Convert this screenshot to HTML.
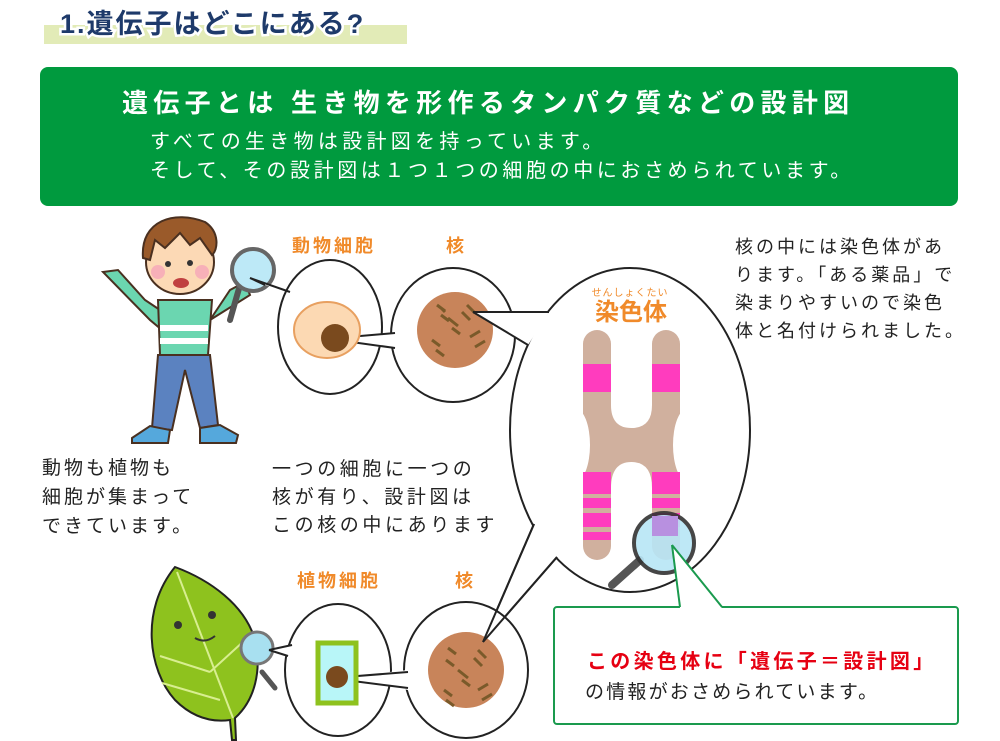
<!DOCTYPE html>
<html><head><meta charset="utf-8"><style>
body{margin:0;background:#fff}
svg{display:block}
text{font-family:"Liberation Sans","Noto Sans CJK JP",sans-serif}
</style></head><body>
<svg width="1000" height="741" viewBox="0 0 1000 741" xmlns="http://www.w3.org/2000/svg">
<rect x="44" y="25" width="363" height="19" fill="#e2ebb7"/>
<text x="60" y="33" font-size="27" font-weight="bold" fill="#1e3a6a" stroke="#fff" stroke-width="5" paint-order="stroke" letter-spacing="2">1.遺伝子はどこにある?</text>
<rect x="40" y="67" width="918" height="139" rx="8" fill="#009a3e"/>
<text x="122" y="112" font-size="26" font-weight="bold" fill="#fff" letter-spacing="5.3">遺伝子とは 生き物を形作るタンパク質などの設計図</text>
<text x="150" y="148" font-size="20" fill="#fff" letter-spacing="4.3">すべての生き物は設計図を持っています。</text>
<text x="150" y="177" font-size="20" fill="#fff" letter-spacing="3.6">そして、その設計図は１つ１つの細胞の中におさめられています。</text>

<!-- boy -->
<g stroke="#4a3020" stroke-width="2">
<path d="M103 272 L118 270 L145 300 L160 310 L162 330 L150 320 Z" fill="#6bd6b0"/>
<path d="M230 290 L245 282 L250 295 L210 320 Z" fill="#6bd6b0"/>
<path d="M158 300 L212 300 L208 355 L160 355 Z" fill="#6bd6b0"/>
<rect x="160" y="325" width="48" height="6" fill="#fff" stroke="none"/>
<rect x="160" y="338" width="48" height="6" fill="#fff" stroke="none"/>
<path d="M158 355 L210 355 L218 425 L200 428 L185 370 L172 430 L152 428 Z" fill="#5b82c0"/>
<path d="M132 438 L150 426 L170 430 L168 443 L132 443 Z" fill="#55a8dc"/>
<path d="M200 428 L220 425 L238 435 L236 443 L200 443 Z" fill="#55a8dc"/>
<ellipse cx="180" cy="262" rx="34" ry="32" fill="#fcd9b5"/>
<path d="M143 258 C140 220 175 210 205 222 C220 232 218 250 212 255 L200 238 L190 245 L180 233 L165 248 L155 240 L150 260 Z" fill="#9a5a2a"/>
</g>
<circle cx="158" cy="272" r="7" fill="#f7b0b8"/><circle cx="202" cy="272" r="7" fill="#f7b0b8"/>
<circle cx="168" cy="264" r="3" fill="#333"/><circle cx="190" cy="263" r="3" fill="#333"/>
<ellipse cx="181" cy="283" rx="8" ry="5" fill="#c04040"/>
<line x1="240" y1="285" x2="230" y2="320" stroke="#555" stroke-width="6" stroke-linecap="round"/>
<circle cx="253" cy="270" r="21" fill="#bde9f7" stroke="#666" stroke-width="4"/>

<!-- animal cell bubbles -->
<ellipse cx="330" cy="327" rx="52" ry="67" fill="#fff" stroke="#222" stroke-width="2"/>
<path d="M265 285 L250 278 L290 292" fill="#fff" stroke="#222" stroke-width="2"/>
<ellipse cx="453" cy="335" rx="62" ry="67" fill="#fff" stroke="#222" stroke-width="2"/>
<path d="M337 338 L395 333 L395 348 Z" fill="#fff" stroke="none"/>
<line x1="337" y1="338" x2="395" y2="333" stroke="#222" stroke-width="2"/>
<line x1="337" y1="340" x2="395" y2="348" stroke="#222" stroke-width="2"/>
<ellipse cx="327" cy="330" rx="33" ry="28" fill="#fcd9b3" stroke="#e8a060" stroke-width="2"/>
<circle cx="335" cy="338" r="14" fill="#7a4a1e"/>
<circle cx="455" cy="330" r="38" fill="#c8845a"/>
<g stroke="#7a5a2a" stroke-width="3" fill="none">
<path d="M437 305 l8 6 M441 315 l8 6 M441 308 l4 4"/><path d="M448 318 l10 8 M452 328 l8 6"/><path d="M432 340 l8 6 M436 350 l8 6"/><path d="M470 337 l10 -6 M475 347 l10 -6"/><path d="M467 305 l8 8 M462 312 l8 8"/>
</g>
<text x="292" y="252" font-size="18" font-weight="bold" fill="#f08a2a" letter-spacing="3">動物細胞</text>
<text x="455" y="252" font-size="18" font-weight="bold" fill="#f08a2a" text-anchor="middle">核</text>

<!-- big bubble -->
<ellipse cx="630" cy="430" rx="120" ry="162" fill="#fff" stroke="#222" stroke-width="2"/>
<path d="M473 312 L549 312 L528 345 Z" fill="#fff"/>
<line x1="473" y1="312" x2="549" y2="312" stroke="#222" stroke-width="2"/>
<line x1="473" y1="312" x2="528" y2="345" stroke="#222" stroke-width="2"/>
<path d="M483 642 L534 524 L557 557 Z" fill="#fff"/>
<line x1="483" y1="642" x2="534" y2="524" stroke="#222" stroke-width="2"/>
<line x1="483" y1="642" x2="557" y2="557" stroke="#222" stroke-width="2"/>
<text x="630" y="296" font-size="10" fill="#f08a2a" text-anchor="middle" letter-spacing="1">せんしょくたい</text>
<text x="631" y="320" font-size="24" font-weight="bold" fill="#f08a2a" text-anchor="middle">染色体</text>
<g fill="#d0b09e">
<rect x="583" y="330" width="28" height="230" rx="14"/>
<rect x="652" y="330" width="28" height="230" rx="14"/>
<rect x="583" y="395" width="97" height="100"/>
</g>
<g fill="#fff">
<path d="M611 330 L611 405 Q611 428 631.5 428 Q652 428 652 405 L652 330 Z"/>
<path d="M611 562 L611 488 Q611 462 631.5 462 Q652 462 652 488 L652 562 Z"/>
<ellipse cx="576" cy="445" rx="14" ry="36"/>
<ellipse cx="687" cy="445" rx="14" ry="36"/>
</g>
<g fill="#ff3cbe">
<rect x="583" y="364" width="28" height="28"/><rect x="652" y="364" width="28" height="28"/>
<rect x="583" y="472" width="28" height="22"/><rect x="652" y="472" width="28" height="22"/>
<rect x="583" y="498" width="28" height="10"/><rect x="652" y="498" width="28" height="10"/>
<rect x="583" y="513" width="28" height="14"/><rect x="652" y="513" width="28" height="14"/>
<rect x="583" y="532" width="28" height="8"/>
</g>
<line x1="640" y1="560" x2="612" y2="585" stroke="#555" stroke-width="8" stroke-linecap="round"/>
<circle cx="664" cy="543" r="30" fill="#b8e6f6" stroke="#333" stroke-width="4" opacity="0.9"/>
<path d="M652 516 h26 v20 h-26 z" fill="#b890e0"/>

<text font-size="18" fill="#222" letter-spacing="3"><tspan x="735" y="253">核の中には染色体があ</tspan><tspan x="735" y="281">ります。「ある薬品」で</tspan><tspan x="735" y="309">染まりやすいので染色</tspan><tspan x="735" y="337">体と名付けられました。</tspan></text>
<text font-size="19" fill="#222" letter-spacing="3"><tspan x="42" y="474">動物も植物も</tspan><tspan x="42" y="503">細胞が集まって</tspan><tspan x="42" y="532">できています。</tspan></text>
<text font-size="19" fill="#222" letter-spacing="3.6"><tspan x="272" y="475">一つの細胞に一つの</tspan><tspan x="272" y="503">核が有り、設計図は</tspan><tspan x="272" y="531">この核の中にあります</tspan></text>

<!-- plant row -->
<path d="M175 567 C140 610 148 670 175 700 C195 720 215 722 230 720 L232 740 L236 740 L235 718 C255 700 262 670 255 640 C245 605 210 580 175 567 Z" fill="#8ec21e" stroke="#222" stroke-width="2"/>
<g stroke="#d8ee90" stroke-width="2" fill="none"><path d="M177 572 L233 718"/><path d="M160 656 L210 672 M162 683 L220 700 M210 672 L245 640"/></g>
<circle cx="178" cy="625" r="4" fill="#333"/><circle cx="212" cy="615" r="4" fill="#333"/>
<path d="M195 638 q10 6 20 -2" stroke="#333" stroke-width="2" fill="none"/>
<line x1="262" y1="672" x2="275" y2="688" stroke="#555" stroke-width="5" stroke-linecap="round"/>
<circle cx="257" cy="648" r="16" fill="#a8e0f0" stroke="#777" stroke-width="3"/>
<ellipse cx="338" cy="670" rx="53" ry="66" fill="#fff" stroke="#222" stroke-width="2"/>
<path d="M269 650 L292 645 L288 656 Z" fill="#fff"/>
<line x1="269" y1="650" x2="292" y2="645" stroke="#222" stroke-width="2"/>
<line x1="269" y1="650" x2="288" y2="656" stroke="#222" stroke-width="2"/>
<ellipse cx="466" cy="670" rx="62" ry="68" fill="#fff" stroke="#222" stroke-width="2"/>
<path d="M345 677 L408 670 L408 690 Z" fill="#fff"/>
<line x1="345" y1="677" x2="408" y2="672" stroke="#222" stroke-width="2"/>
<line x1="345" y1="680" x2="408" y2="688" stroke="#222" stroke-width="2"/>
<rect x="318" y="643" width="38" height="60" fill="#b8f6f8" stroke="#8ec21e" stroke-width="5"/>
<circle cx="337" cy="677" r="11" fill="#7a4a1e"/>
<circle cx="466" cy="670" r="38" fill="#c8845a"/>
<g stroke="#7a5a2a" stroke-width="3" fill="none">
<path d="M448 648 l8 6 M446 660 l8 6"/><path d="M458 670 l10 8 M462 680 l8 6"/><path d="M444 690 l8 6 M446 700 l8 6"/><path d="M478 690 l10 -6 M482 700 l10 -6"/><path d="M478 650 l8 8 M474 658 l8 8"/>
</g>
<line x1="483" y1="642" x2="534" y2="524" stroke="#222" stroke-width="2"/>
<line x1="483" y1="642" x2="557" y2="557" stroke="#222" stroke-width="2"/>
<text x="297" y="587" font-size="18" font-weight="bold" fill="#f08a2a" letter-spacing="3">植物細胞</text>
<text x="464" y="587" font-size="18" font-weight="bold" fill="#f08a2a" text-anchor="middle">核</text>

<!-- callout -->
<rect x="554" y="607" width="404" height="117" rx="3" fill="#fff" stroke="#1a9a4e" stroke-width="2"/>
<path d="M672 545 L680 608 L722 608 Z" fill="#fff"/>
<line x1="672" y1="545" x2="680" y2="607" stroke="#1a9a4e" stroke-width="2"/>
<line x1="672" y1="545" x2="722" y2="607" stroke="#1a9a4e" stroke-width="2"/>
<text x="587" y="668" font-size="20" font-weight="bold" fill="#e60012" letter-spacing="3.3">この染色体に「遺伝子＝設計図」</text>
<text x="585" y="698" font-size="19" fill="#222" letter-spacing="2.2">の情報がおさめられています。</text>
</svg>
</body></html>
